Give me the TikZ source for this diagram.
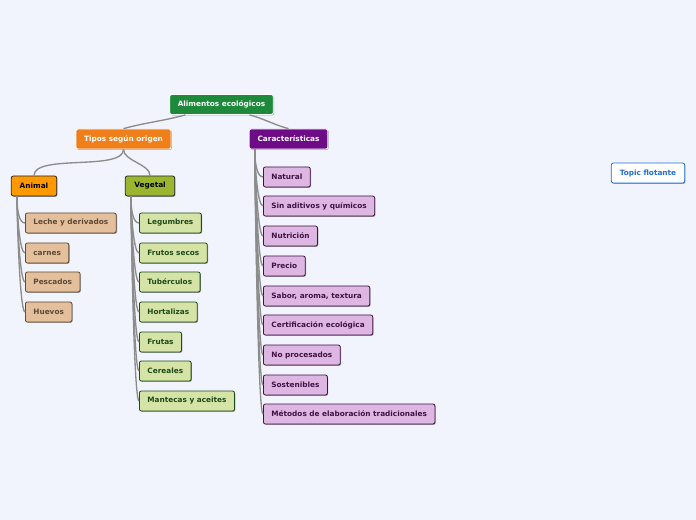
\documentclass[tikz,border=0pt]{standalone}
\usepackage{fontspec}
\setmainfont{DejaVu Sans}
\usetikzlibrary{positioning,shapes,shadows}

\definecolor{bgc}{HTML}{F2F4FD}
\definecolor{linec}{HTML}{8C8C8C}
\definecolor{rootc}{HTML}{1D8A3B}
\definecolor{tiposc}{HTML}{EE7F1A}
\definecolor{carc}{HTML}{6E0B87}
\definecolor{animc}{HTML}{FF9900}
\definecolor{vegc}{HTML}{9AB52F}
\definecolor{animleaf}{HTML}{E3BF9B}
\definecolor{animdark}{HTML}{5E4A38}
\definecolor{vegleaf}{HTML}{D5E3A7}
\definecolor{vegdark}{HTML}{1E4A1A}
\definecolor{carleaf}{HTML}{DDB7E2}
\definecolor{cardark}{HTML}{3E1245}
\definecolor{floatc}{HTML}{1E6FCF}

\tikzset{
  topic/.style={rounded corners=1.5pt,minimum height=15pt,inner xsep=6pt,inner ysep=0pt,
    font=\fontsize{5.5}{6}\selectfont\bfseries,line width=0.6pt,
    drop shadow={shadow xshift=0.6pt,shadow yshift=-0.6pt,opacity=0.35,fill=black}},
  main/.style={topic,draw=white,text=white},
  sub/.style={topic,draw=black!85,text=black},
  aleaf/.style={topic,anchor=west,draw=animdark,fill=animleaf,text=animdark},
  vleaf/.style={topic,anchor=west,draw=vegdark,fill=vegleaf,text=vegdark},
  cleaf/.style={topic,anchor=west,draw=cardark,fill=carleaf,text=cardark},
  link/.style={draw=linec,line width=1pt},
  fan/.style={out=-90,in=180,out distance=12pt,in distance=4pt},
}

\begin{document}
\begin{tikzpicture}[x=0.75pt,y=0.75pt]
\useasboundingbox[fill=bgc] (0,0) rectangle (696,-520);

% main topics
\node[main,fill=rootc,minimum width=77pt] (root) at (221.5,-104.5) {Alimentos ecológicos};
\node[main,fill=tiposc,minimum width=71pt] (tipos) at (123.5,-139) {Tipos según origen};
\node[main,fill=carc,minimum width=59pt] (car) at (288.5,-139) {Características};
\node[sub,fill=animc,minimum width=34pt] (anim) at (34,-186) {Animal};
\node[sub,fill=vegc,minimum width=37pt] (veg) at (150,-186) {Vegetal};
\node[topic,draw=floatc,fill=white,text=floatc,minimum width=55pt] (flot) at (648,-173) {Topic flotante};

% animal
\node[aleaf] (a1) at (25,-223) {Leche y derivados};
\node[aleaf] (a2) at (25,-253) {carnes};
\node[aleaf] (a3) at (25,-282) {Pescados};
\node[aleaf] (a4) at (25,-312) {Huevos};

% vegetal
\node[vleaf] (v1) at (139,-223) {Legumbres};
\node[vleaf] (v2) at (139,-253) {Frutos secos};
\node[vleaf] (v3) at (139,-282) {Tubérculos};
\node[vleaf] (v4) at (139,-312) {Hortalizas};
\node[vleaf] (v5) at (139,-342) {Frutas};
\node[vleaf] (v6) at (139,-371) {Cereales};
\node[vleaf] (v7) at (139,-401) {Mantecas y aceites};

% caracteristicas
\node[cleaf] (c1) at (263,-177) {Natural};
\node[cleaf] (c2) at (263,-206) {Sin aditivos y químicos};
\node[cleaf] (c3) at (263,-236) {Nutrición};
\node[cleaf] (c4) at (263,-266) {Precio};
\node[cleaf] (c5) at (263,-296) {Sabor, aroma, textura};
\node[cleaf] (c6) at (263,-325) {Certificación ecológica};
\node[cleaf] (c7) at (263,-355) {No procesados};
\node[cleaf] (c8) at (263,-385) {Sostenibles};
\node[cleaf] (c9) at (263,-414) {Métodos de elaboración tradicionales};

% connectors
\draw[link] ([xshift=-27pt]root.south) to[out=-165,in=15] (tipos.north);
\draw[link] ([xshift=21pt]root.south) to[out=-15,in=165] (car.north);
\draw[link] (tipos.south) to[out=-90,in=90,looseness=0.6] (anim.north);
\draw[link] (tipos.south) to[out=-90,in=90,looseness=0.8] (veg.north);

\draw[link] ([xshift=4.5pt]anim.south west) to[fan] (a1.west);
\draw[link] ([xshift=4.5pt]anim.south west) to[fan] (a2.west);
\draw[link] ([xshift=4.5pt]anim.south west) to[fan] (a3.west);
\draw[link] ([xshift=4.5pt]anim.south west) to[fan] (a4.west);

\draw[link] ([xshift=4.5pt]veg.south west) to[fan] (v1.west);
\draw[link] ([xshift=4.5pt]veg.south west) to[fan] (v2.west);
\draw[link] ([xshift=4.5pt]veg.south west) to[fan] (v3.west);
\draw[link] ([xshift=4.5pt]veg.south west) to[fan] (v4.west);
\draw[link] ([xshift=4.5pt]veg.south west) to[fan] (v5.west);
\draw[link] ([xshift=4.5pt]veg.south west) to[fan] (v6.west);
\draw[link] ([xshift=4.5pt]veg.south west) to[fan] (v7.west);

\draw[link] ([xshift=4.5pt]car.south west) to[fan] (c1.west);
\draw[link] ([xshift=4.5pt]car.south west) to[fan] (c2.west);
\draw[link] ([xshift=4.5pt]car.south west) to[fan] (c3.west);
\draw[link] ([xshift=4.5pt]car.south west) to[fan] (c4.west);
\draw[link] ([xshift=4.5pt]car.south west) to[fan] (c5.west);
\draw[link] ([xshift=4.5pt]car.south west) to[fan] (c6.west);
\draw[link] ([xshift=4.5pt]car.south west) to[fan] (c7.west);
\draw[link] ([xshift=4.5pt]car.south west) to[fan] (c8.west);
\draw[link] ([xshift=4.5pt]car.south west) to[fan] (c9.west);
\end{tikzpicture}
\end{document}
